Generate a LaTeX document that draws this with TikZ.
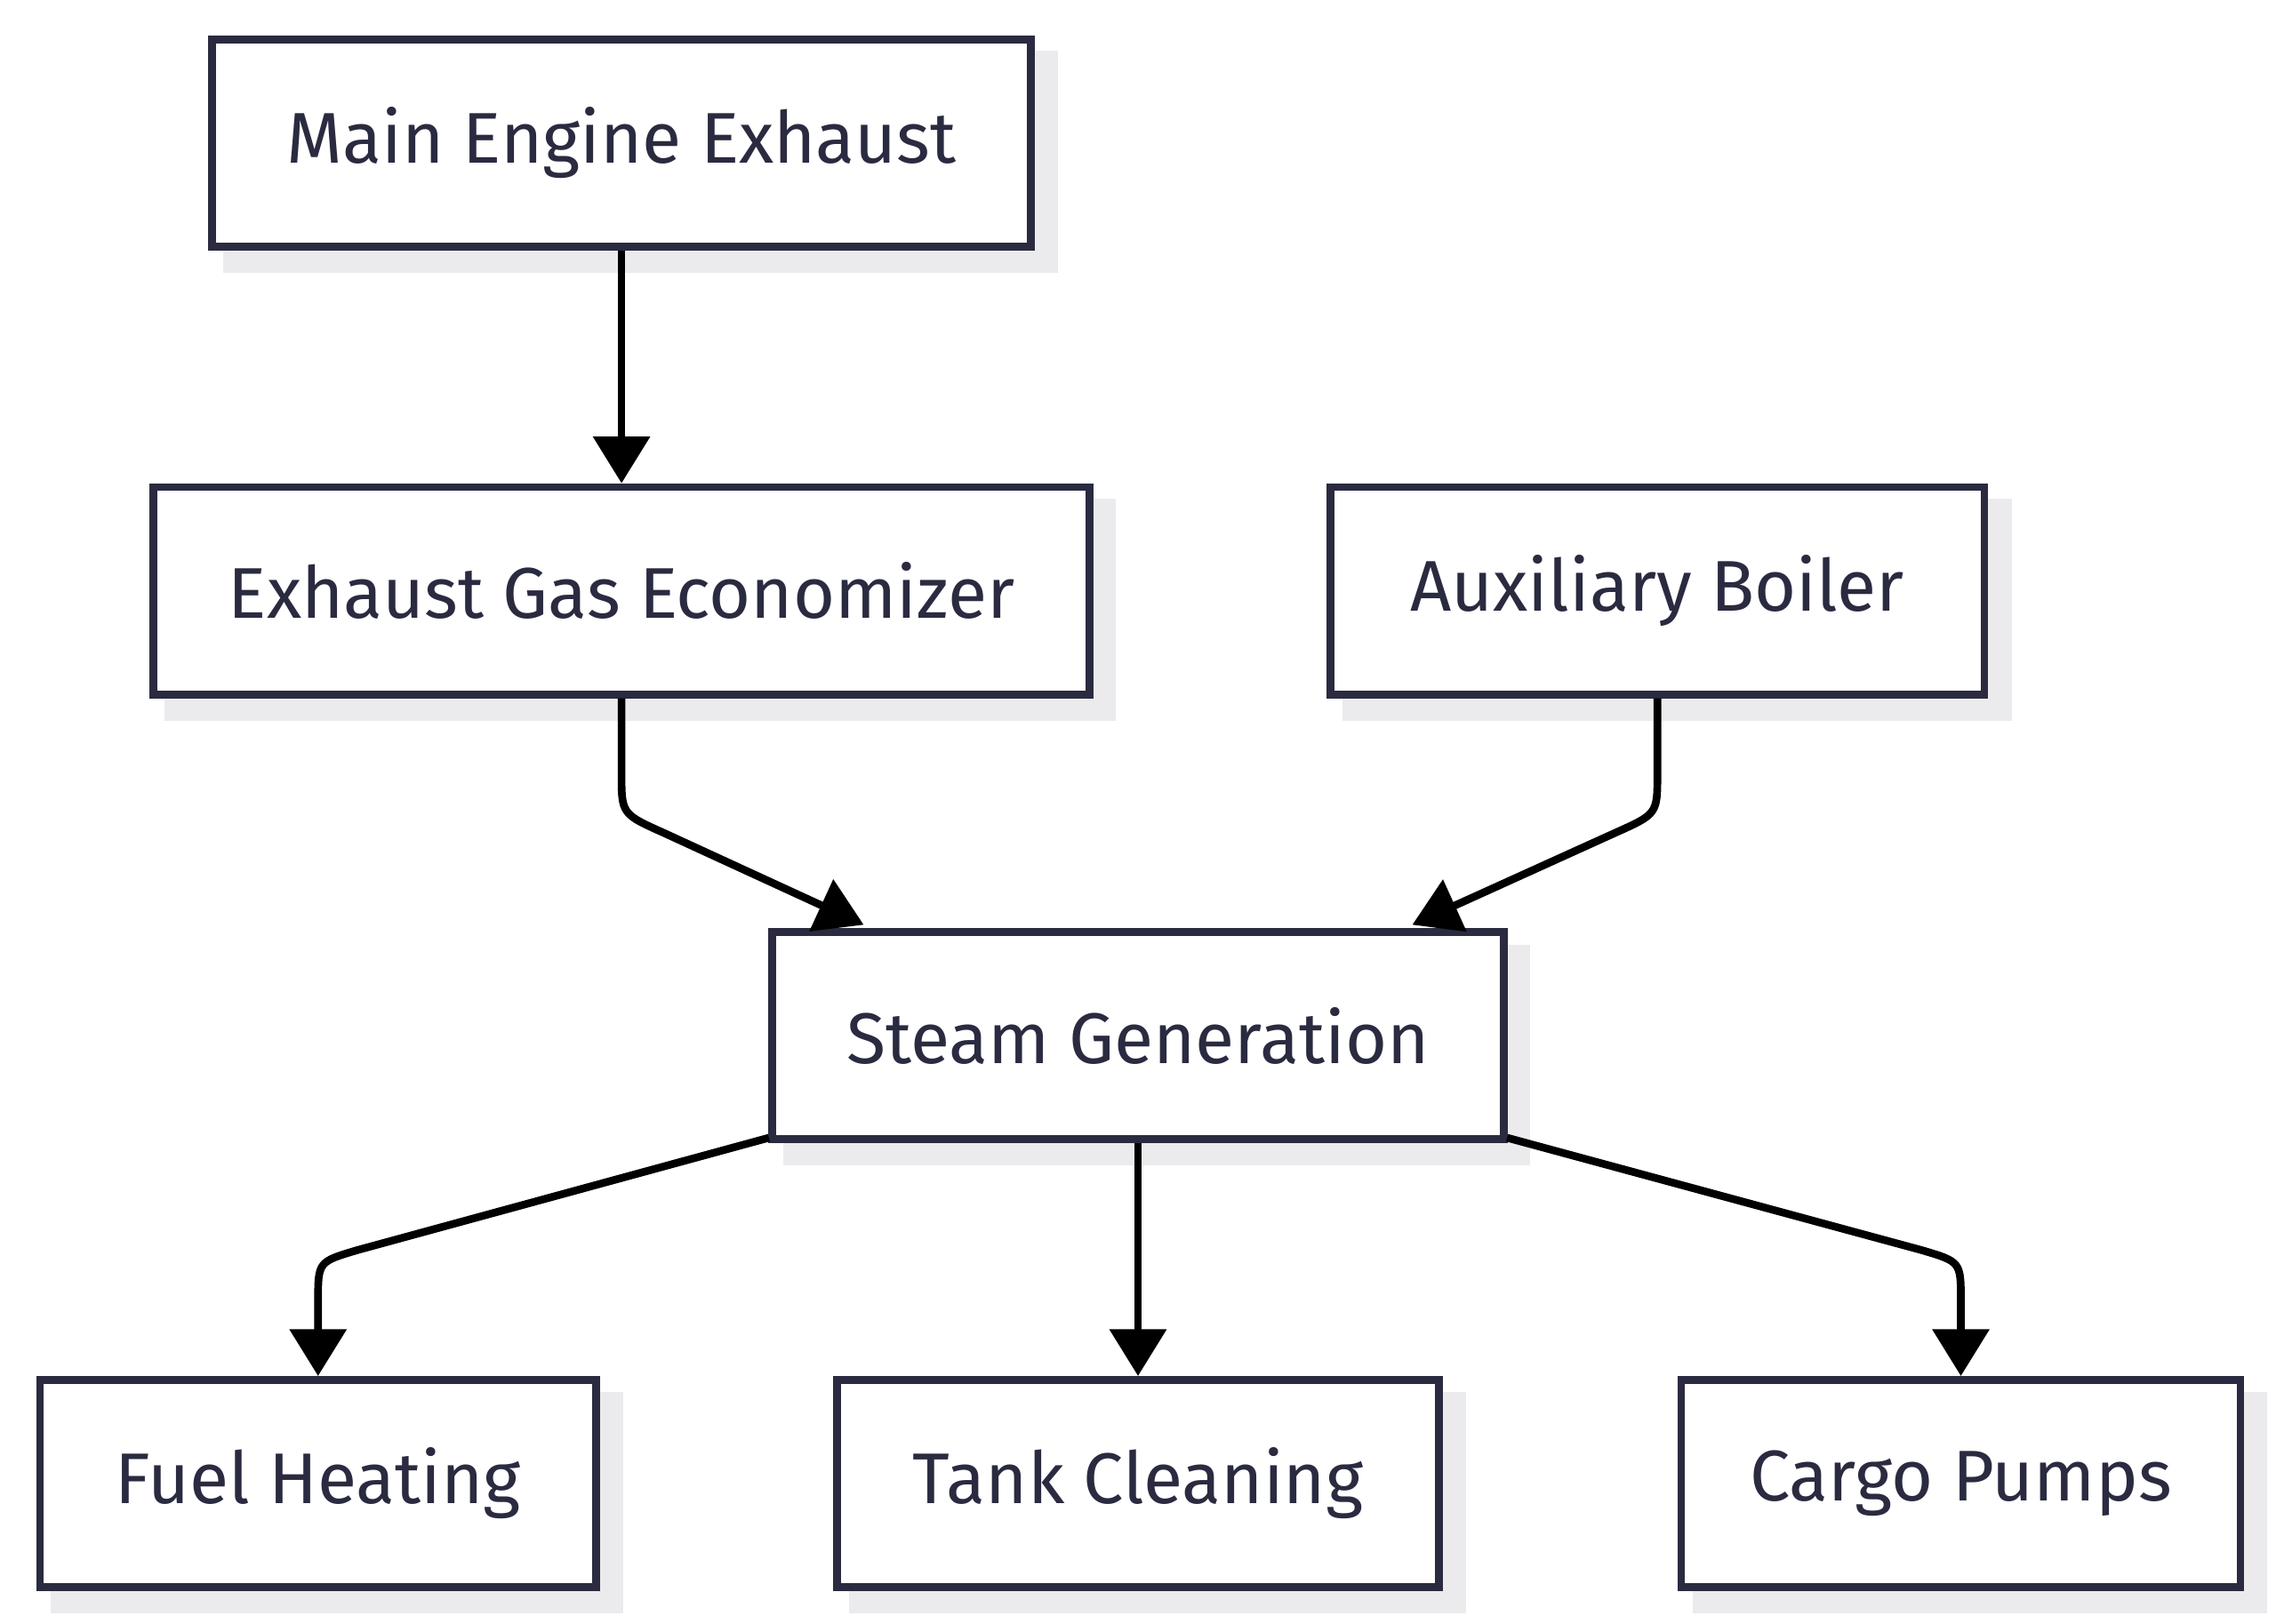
\documentclass[tikz,border=0pt]{standalone}
\usepackage{fontspec}
\setmainfont{Fira Sans}
\usetikzlibrary{arrows.meta,positioning}
\definecolor{boxline}{HTML}{2A2A40}
\definecolor{shadowgray}{HTML}{EBEBEE}
\tikzset{
  blk/.style={draw=boxline, line width=1.5pt, fill=white, text=boxline,
    minimum height=1.42cm, inner sep=0pt, font=\fontsize{14}{17}\selectfont},
  shd/.style={fill=shadowgray, draw=none},
  flow/.style={line width=1.5pt, -{Triangle[length=0.32cm,width=0.38cm]}}
}
\begin{document}
\begin{tikzpicture}[x=0.01cm,y=0.01cm]
        \useasboundingbox (0,0) rectangle (1560,-1113);

        % shadows
        \fill[shd] (153,-35) rectangle (725,-187);
        \fill[shd] (113,-342) rectangle (765,-494);
        \fill[shd] (920,-342) rectangle (1379,-494);
        \fill[shd] (537,-648) rectangle (1049,-799);
        \fill[shd] (35,-954) rectangle (427,-1106);
        \fill[shd] (582,-954) rectangle (1005,-1106);
        \fill[shd] (1160,-954) rectangle (1554,-1106);

        \node[blk, minimum width=5.61cm] (mee) at (426,-98) {Main Engine Exhaust};
        \node[blk, minimum width=6.41cm] (ege) at (426,-405) {Exhaust Gas Economizer};
        \node[blk, minimum width=4.48cm] (aux) at (1136,-405) {Auxiliary Boiler};
        \node[blk, minimum width=5.01cm] (sg) at (780,-710) {Steam Generation};
        \node[blk, minimum width=3.81cm] (fuel) at (218,-1017) {Fuel Heating};
        \node[blk, minimum width=4.12cm] (tank) at (780,-1017) {Tank Cleaning};
        \node[blk, minimum width=3.83cm] (cargo) at (1344,-1017) {Cargo Pumps};

        \coordinate (sgL) at (592,-634);
        \coordinate (sgR) at (968,-634);
        \coordinate (sgBL) at (527,-780);
        \coordinate (sgBR) at (1033,-780);

        \draw[flow] (mee) -- (ege);
        \draw[flow] (ege.south) -- (426,-530) .. controls (426,-558) .. (455,-571) -- (sgL);
        \draw[flow] (aux.south) -- (1136,-530) .. controls (1136,-558) .. (1107,-571) -- (sgR);
        \draw[flow] (sgBL) -- (245,-857) .. controls (218,-865) .. (218,-892) -- (fuel.north);
        \draw[flow] (sg) -- (tank);
        \draw[flow] (sgBR) -- (1317,-857) .. controls (1344,-865) .. (1344,-892) -- (cargo.north);
    \end{tikzpicture}
\end{document}
